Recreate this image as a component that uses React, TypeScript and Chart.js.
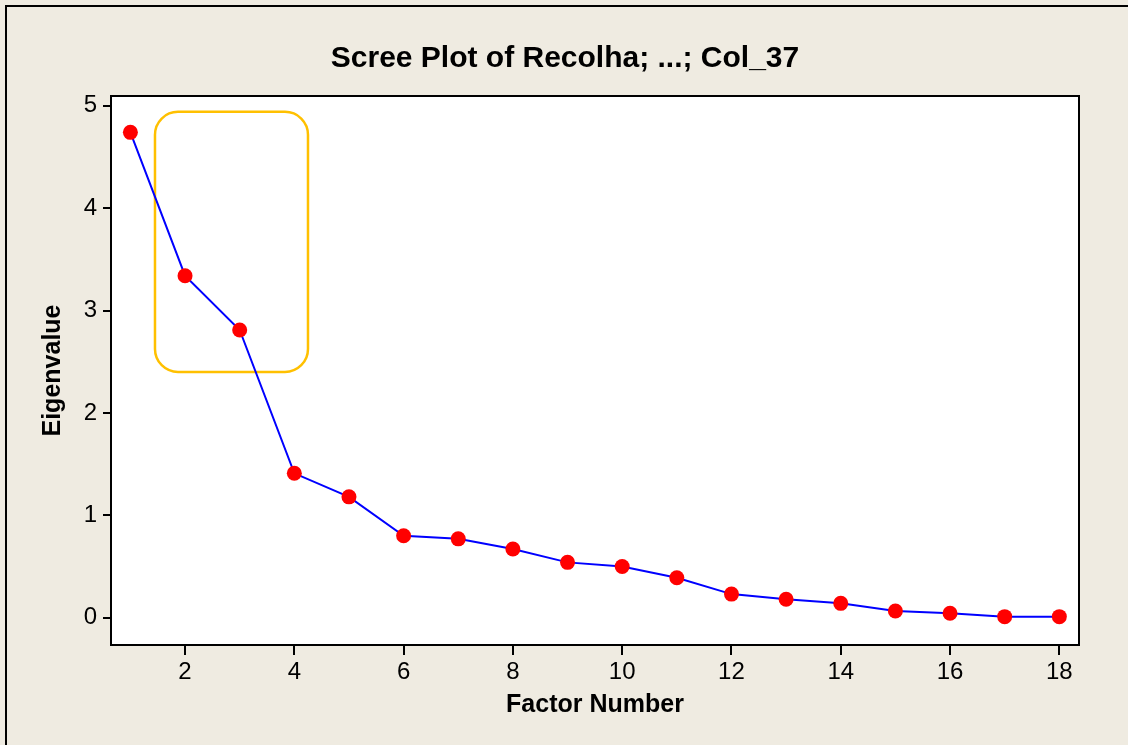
import React, { useEffect, useRef } from "react";
import { Chart, registerables } from "chart.js";

Chart.register(...registerables);

const factorNumbers = [1, 2, 3, 4, 5, 6, 7, 8, 9, 10, 11, 12, 13, 14, 15, 16, 17, 18];
const eigenvalues = [4.74, 3.34, 2.81, 1.41, 1.18, 0.8, 0.77, 0.67, 0.54, 0.5, 0.39, 0.23, 0.18, 0.14, 0.065, 0.043, 0.01, 0.01];
const xTickValues = [2, 4, 6, 8, 10, 12, 14, 16, 18];
const yTickValues = [0, 1, 2, 3, 4, 5];
const chartTitle = "Scree Plot of Recolha; ...; Col_37";
const xAxisTitle = "Factor Number";
const yAxisTitle = "Eigenvalue";
// highlight box, in data coordinates
const highlightX = [1.45, 4.25];
const highlightY = [2.4, 4.94];

const FONT = "'Liberation Sans', Arial, sans-serif";

const framePlugin = {
  id: "minitabFrame",
  beforeDraw(chart: any) {
    const { ctx, width, height, chartArea: a } = chart;
    ctx.save();
    ctx.fillStyle = "#EFEBE1";
    ctx.fillRect(0, 0, width, height);
    ctx.strokeStyle = "#000";
    ctx.lineWidth = 2;
    ctx.beginPath();
    ctx.moveTo(6, height);
    ctx.lineTo(6, 6);
    ctx.lineTo(width, 6);
    ctx.stroke();
    ctx.fillStyle = "#FFFFFF";
    ctx.fillRect(a.left, a.top, a.right - a.left, a.bottom - a.top);
    ctx.restore();
  },
  beforeDatasetsDraw(chart: any) {
    const { ctx } = chart;
    const xs = chart.scales.x;
    const ys = chart.scales.y;
    const x0 = xs.getPixelForValue(highlightX[0]);
    const x1 = xs.getPixelForValue(highlightX[1]);
    const y0 = ys.getPixelForValue(highlightY[1]);
    const y1 = ys.getPixelForValue(highlightY[0]);
    const r = 23;
    ctx.save();
    ctx.strokeStyle = "#FFC000";
    ctx.lineWidth = 2.5;
    ctx.beginPath();
    ctx.moveTo(x0 + r, y0);
    ctx.lineTo(x1 - r, y0);
    ctx.arcTo(x1, y0, x1, y0 + r, r);
    ctx.lineTo(x1, y1 - r);
    ctx.arcTo(x1, y1, x1 - r, y1, r);
    ctx.lineTo(x0 + r, y1);
    ctx.arcTo(x0, y1, x0, y1 - r, r);
    ctx.lineTo(x0, y0 + r);
    ctx.arcTo(x0, y0, x0 + r, y0, r);
    ctx.closePath();
    ctx.stroke();
    ctx.restore();
  },
  afterDraw(chart: any) {
    const { ctx, chartArea: a } = chart;
    ctx.save();
    ctx.strokeStyle = "#000";
    ctx.lineWidth = 2;
    ctx.strokeRect(a.left, a.top, a.right - a.left, a.bottom - a.top);
    ctx.restore();
  },
};

export default function App() {
  const canvasRef = useRef<HTMLCanvasElement | null>(null);

  useEffect(() => {
    if (!canvasRef.current) return;
    const points = factorNumbers.map((f, i) => ({ x: f, y: eigenvalues[i] }));
    const chart = new Chart(canvasRef.current, {
      type: "line",
      data: {
        datasets: [
          {
            data: points,
            borderColor: "#0000FF",
            borderWidth: 2,
            backgroundColor: "#FF0000",
            pointBackgroundColor: "#FF0000",
            pointBorderWidth: 0,
            pointRadius: 7.5,
            pointHoverRadius: 7.5,
            tension: 0,
            fill: false,
          },
        ],
      },
      options: {
        responsive: false,
        animation: false,
        devicePixelRatio: 1,
        layout: { padding: { left: 2, right: 0, top: 0, bottom: 0 } },
        plugins: {
          legend: { display: false },
          tooltip: { enabled: false },
          title: {
            display: true,
            text: chartTitle,
            color: "#000",
            font: { family: FONT, size: 30, weight: "bold", lineHeight: 1.2 },
            padding: { top: 41, bottom: 19 },
          },
        },
        scales: {
          x: {
            type: "linear",
            position: "bottom",
            min: 0.645,
            max: 18.36,
            afterBuildTicks: (s: any) => {
              s.ticks = xTickValues.map((v) => ({ value: v }));
            },
            afterFit: (s: any) => {
              s.height = 100;
            },
            grid: {
              display: true,
              drawOnChartArea: false,
              drawTicks: true,
              tickLength: 10,
              color: "#000",
              lineWidth: 2,
            },
            border: { display: false },
            ticks: {
              color: "#000",
              padding: 3,
              maxRotation: 0,
              autoSkip: false,
              font: { family: FONT, size: 24, lineHeight: 1.2 },
            },
            title: {
              display: true,
              text: xAxisTitle,
              color: "#000",
              font: { family: FONT, size: 25, weight: "bold", lineHeight: 1.2 },
              padding: { top: 0, bottom: 25 },
            },
          },
          y: {
            type: "linear",
            position: "left",
            min: -0.267,
            max: 5.095,
            afterBuildTicks: (s: any) => {
              s.ticks = yTickValues.map((v) => ({ value: v }));
            },
            afterFit: (s: any) => {
              s.width = 109;
            },
            grid: {
              display: true,
              drawOnChartArea: false,
              drawTicks: true,
              tickLength: 8,
              color: "#000",
              lineWidth: 2,
            },
            border: { display: false },
            ticks: {
              color: "#000",
              padding: 6,
              font: { family: FONT, size: 24, lineHeight: 1.2 },
            },
            title: {
              display: true,
              text: yAxisTitle,
              color: "#000",
              font: { family: FONT, size: 25, weight: "bold", lineHeight: 1.2 },
              padding: { top: 36, bottom: 0 },
            },
          },
          yRight: {
            type: "linear",
            position: "right",
            display: true,
            afterFit: (s: any) => {
              s.width = 49;
            },
            grid: { display: false, drawTicks: false },
            border: { display: false },
            ticks: { display: false },
            title: { display: false },
          },
        },
      },
      plugins: [framePlugin],
    });
    return () => chart.destroy();
  }, []);

  return (
    <div style={{ position: "absolute", left: 0, top: 0, width: 1128, height: 745 }}>
      <canvas ref={canvasRef} width={1128} height={745} style={{ display: "block" }} />
    </div>
  );
}
